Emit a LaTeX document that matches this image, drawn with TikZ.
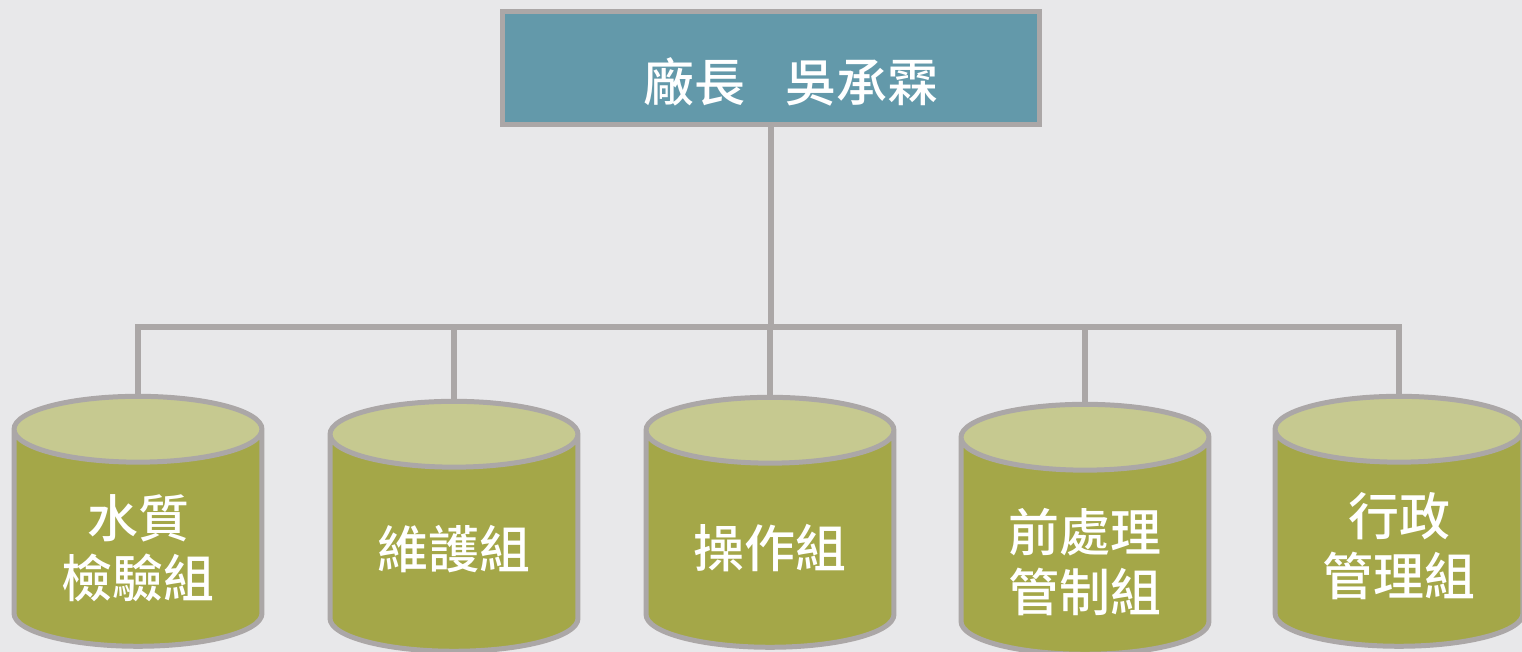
\documentclass[tikz,border=0pt]{standalone}
\usepackage{fontspec}
\usetikzlibrary{shapes.geometric}
\newfontfamily\cjk{Noto Sans CJK TC}[BoldFont={* Medium}]
\definecolor{backgray}{HTML}{E8E8EA}
\definecolor{edgegray}{HTML}{ABA7A7}
\definecolor{chiefblue}{HTML}{6399AA}
\definecolor{teambody}{HTML}{A4A748}
\definecolor{teamtop}{HTML}{C6C990}
% pushes the first line of a label down
\newcommand\teamgap[1]{\rule{0pt}{#1}}

\begin{document}
\begin{tikzpicture}[x=0.02cm,y=-0.02cm,
        chief/.style={draw=edgegray,line width=0.1cm,fill=chiefblue,text=white,
            minimum width=10.76cm,minimum height=2.26cm,text height=1.5cm,text depth=0.14cm,
            font=\cjk\bfseries\fontsize{29}{34}\selectfont},
        team/.style={cylinder,shape border rotate=90,aspect=0.4,draw=edgegray,line width=0.1cm,
            cylinder uses custom fill,cylinder body fill=teambody,cylinder end fill=teamtop,
            minimum width=4.96cm,minimum height=5cm,text=white,align=center,
            font=\cjk\bfseries\fontsize{29}{34}\selectfont},
        link/.style={draw=edgegray,line width=0.12cm}]
        \useasboundingbox (0,0) rectangle (1522,652);
        \fill[backgray] (0,0) rectangle (1522,652);

        \node[chief] (0) at (771,68) {\hspace{0.8cm}廠長\hspace{0.8em}吳承霖};

        \node[team] (1) at (138,544)  {\teamgap{1.02cm}水質\\檢驗組};
        \node[team] (2) at (454,549)  {\teamgap{0.82cm}維護組};
        \node[team] (3) at (770,545)  {\teamgap{0.98cm}操作組};
        \node[team] (4) at (1085,552) {\teamgap{1.28cm}前處理\\管制組};
        \node[team] (5) at (1399,544) {\teamgap{0.96cm}行政\\管理組};

        \path[link] (0.south) -- ++(0,200) -| (1.north);
        \path[link] (0.south) -- ++(0,200) -| (2.north);
        \path[link] (0.south) -- ++(0,200) -| (3.north);
        \path[link] (0.south) -- ++(0,200) -| (4.north);
        \path[link] (0.south) -- ++(0,200) -| (5.north);

    \end{tikzpicture}
\end{document}
